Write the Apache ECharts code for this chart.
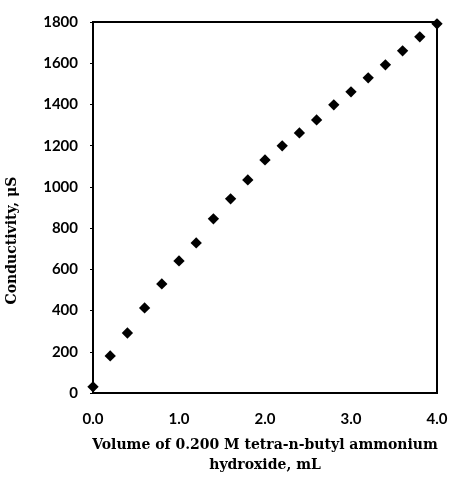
<!DOCTYPE html>
<html><head><meta charset="utf-8">
<script src="https://cdn.jsdelivr.net/npm/echarts@6/dist/echarts.min.js"></script>
<style>html,body{margin:0;padding:0;background:#fff}#c{width:452px;height:478px}</style>
</head><body><div id="c"></div>
<script>
const volumes = [0.0,0.2,0.4,0.6,0.8,1.0,1.2,1.4,1.6,1.8,2.0,2.2,2.4,2.6,2.8,3.0,3.2,3.4,3.6,3.8,4.0];
const conductivity = [30,180,291,413,529,641,728,845,942,1034,1131,1199,1262,1325,1398,1461,1529,1592,1660,1728,1791];
const xTitle = 'Volume of 0.200 M tetra-n-butyl ammonium\nhydroxide, mL';
const yTitle = 'Conductivity, \u03bcS';

const chart = echarts.init(document.getElementById('c'));
chart.setOption({
  animation: false,
  grid: {left: 93, right: 15, top: 22, bottom: 85, show: true, borderColor: '#000', borderWidth: 2, containLabel: false, outerBoundsMode: 'none'},
  xAxis: {
    type: 'value', min: 0, max: 4, interval: 1,
    name: xTitle, nameLocation: 'middle', nameGap: 42,
    nameTextStyle: {fontFamily: 'DejaVu Serif', fontWeight: 'bold', fontSize: 14, color: '#000', lineHeight: 20},
    axisLine: {show: true, lineStyle: {color: '#000', width: 2}},
    axisTick: {show: false},
    splitLine: {show: false},
    axisLabel: {formatter: v => v.toFixed(1), fontFamily: 'Lato', fontWeight: 'bold', fontSize: 15, color: '#000', margin: 19}
  },
  yAxis: {
    type: 'value', min: 0, max: 1800, interval: 200,
    name: yTitle, nameLocation: 'middle', nameGap: 74,
    nameTextStyle: {fontFamily: 'DejaVu Serif', fontWeight: 'bold', fontSize: 14, color: '#000', padding: [0, 66, 0, 0]},
    axisLine: {show: true, lineStyle: {color: '#000', width: 2}},
    axisTick: {show: true, length: 3, lineStyle: {color: '#000', width: 1}},
    splitLine: {show: false},
    axisLabel: {formatter: v => String(v), fontFamily: 'Lato', fontWeight: 'bold', fontSize: 15, color: '#000', margin: 15}
  },
  series: [{
    type: 'scatter',
    data: volumes.map((v, i) => [v, conductivity[i]]),
    symbol: 'rect', symbolRotate: 45, symbolSize: 8,
    itemStyle: {color: '#000', opacity: 1},
    clip: false
  }]
});
</script></body></html>
